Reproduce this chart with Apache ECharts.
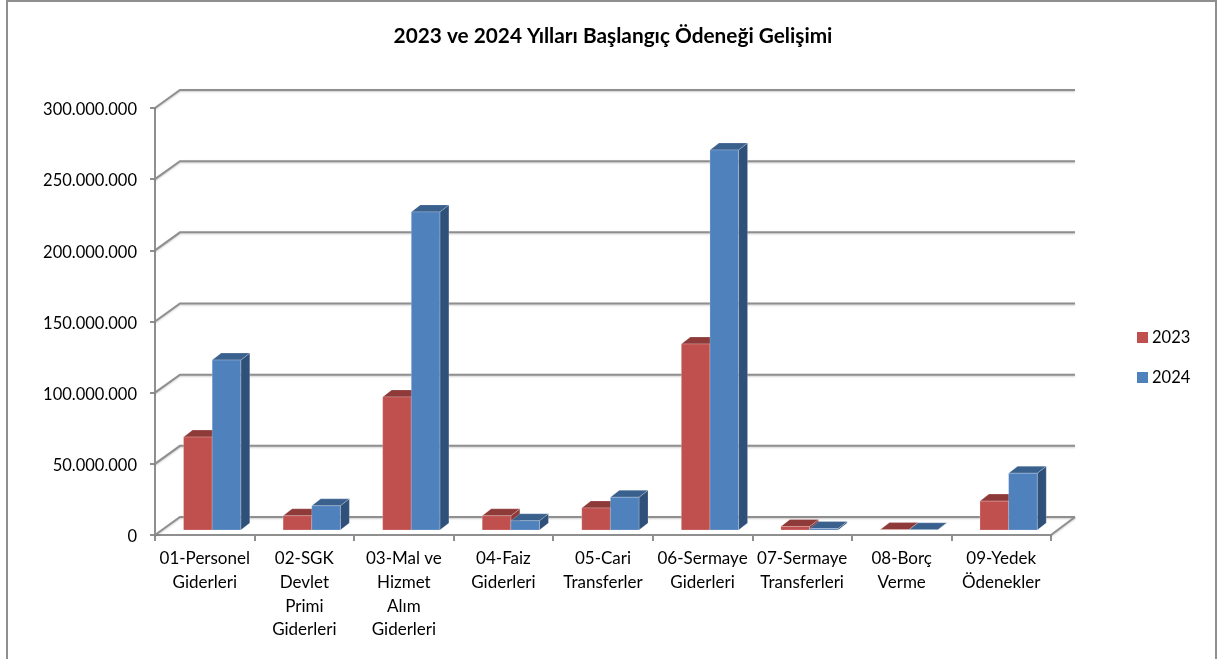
<!DOCTYPE html>
<html><head><meta charset="utf-8">
<style>html,body{margin:0;padding:0;background:#fff}#c{width:1221px;height:659px}</style>
<script src="https://cdn.jsdelivr.net/npm/echarts@6/dist/echarts.min.js"></script>
</head><body><div id="c"></div>
<script>
const categories = ['01-Personel\nGiderleri','02-SGK\nDevlet\nPrimi\nGiderleri','03-Mal ve\nHizmet\nAlım\nGiderleri','04-Faiz\nGiderleri','05-Cari\nTransferler','06-Sermaye\nGiderleri','07-Sermaye\nTransferleri','08-Borç\nVerme','09-Yedek\nÖdenekler'];
const values2023 = [65300000,10000000,93500000,10000000,15500000,130700000,2500000,300000,20300000];
const values2024 = [119400000,17000000,223500000,6500000,23000000,267000000,1000000,150000,39900000];
const yTicks = [0,50000000,100000000,150000000,200000000,250000000,300000000];
const FONT='Lato';
const DEPTH_X=25, DEPTH_Y=18, BAR_DX=9, BAR_DY=7, BAR_FX=7.4, BAR_FY=5;
const chart=echarts.init(document.getElementById('c'),null,{renderer:'canvas'});
function bars(name,color,top,side,sign){
  return {name,type:'custom',coordinateSystem:'cartesian2d',z:3,itemStyle:{color},
    data:(name==='2023'?values2023:values2024).map((v,i)=>[i,v]),
    encode:{x:0,y:1},clip:false,
    renderItem(p,api){
      const base=api.coord([api.value(0),0]),t=api.coord([api.value(0),api.value(1)]);
      const w=api.size([1,0])[0]*0.2875;
      const x0=base[0]+BAR_FX+(sign<0?-w:0),x1=x0+w,yb=base[1]-BAR_FY,yt=t[1]-BAR_FY;
      const edge={stroke:'rgba(255,255,255,0.35)',lineWidth:0.6};
      return {type:'group',children:[
        {type:'polygon',shape:{points:[[x1,yb],[x1+BAR_DX,yb-BAR_DY],[x1+BAR_DX,yt-BAR_DY],[x1,yt]]},style:{fill:side,...edge}},
        {type:'polygon',shape:{points:[[x0,yt],[x1,yt],[x1+BAR_DX,yt-BAR_DY],[x0+BAR_DX,yt-BAR_DY]]},style:{fill:top,...edge}},
        {type:'rect',shape:{x:x0,y:yt,width:w,height:yb-yt},style:{fill:color,...edge}}
      ]};
    }};
}
chart.setOption({
  animation:false,backgroundColor:'#fff',
  title:{text:'2023 ve 2024 Yılları Başlangıç Ödeneği Gelişimi',left:608,top:21,textAlign:'center',
    textStyle:{fontFamily:FONT,fontWeight:'bold',fontSize:20.8,color:'#000'}},
  legend:{data:['2023','2024'],orient:'vertical',left:1132,top:324,itemWidth:11,itemHeight:11,itemGap:23,icon:'rect',
    textStyle:{fontFamily:FONT,fontSize:16.5,color:'#000',padding:[0,0,0,-1]}},
  grid:{left:155,top:108,width:896,height:427,containLabel:false},
  xAxis:{type:'category',data:categories,
    axisLine:{lineStyle:{color:'#8f8f8f',width:2}},
    axisTick:{show:true,length:6,lineStyle:{color:'#8f8f8f',width:2}},
    axisLabel:{interval:0,margin:12,hideOverlap:false,fontFamily:FONT,fontSize:17,lineHeight:23.7,color:'#000'},splitLine:{show:false}},
  yAxis:{type:'value',min:0,max:300000000,interval:50000000,
    axisLine:{show:true,lineStyle:{color:'#8f8f8f',width:2}},
    axisTick:{show:true,length:5,lineStyle:{color:'#8f8f8f',width:2}},
    axisLabel:{margin:18,color:'#000',
      rich:{n:{fontFamily:FONT,fontSize:16.5,color:'#000',padding:[4,0,0,0]}},
      formatter:v=>'{n|'+String(v).replace(/\B(?=(\d{3})+$)/g,'.')+'}'},splitLine:{show:false}},
  graphic:[{type:'rect',silent:true,z:-1,shape:{x:7,y:1,width:1209,height:680},style:{fill:'none',stroke:'#8f8f8f',lineWidth:2}}],
  series:[
    {type:'custom',name:'wall',coordinateSystem:'cartesian2d',z:1,silent:true,clip:false,
     data:yTicks.map(v=>[0,v]),encode:{x:0,y:1},
     renderItem(p,api){
       const y=api.coord([0,api.value(1)])[1],cs=p.coordSys,x=cs.x;
       const line={stroke:'#8f8f8f',lineWidth:2,fill:'none',shadowColor:'rgba(0,0,0,0.2)',shadowBlur:2,shadowOffsetY:1};
       const kids=[{type:'polyline',shape:{points:[[x,y],[x+DEPTH_X,y-DEPTH_Y],[x+cs.width+DEPTH_X-1,y-DEPTH_Y]]},style:line}];
       if(api.value(1)===0)kids.push({type:'polyline',shape:{points:[[x+cs.width,y],[x+cs.width+DEPTH_X-1,y-DEPTH_Y]]},style:line});
       return {type:'group',children:kids};
     }},
    bars('2023','#C0504D','#8E3A38','#8E3A38',-1),
    bars('2024','#4F81BD','#3A608E','#2F5079',1)
  ]
});
</script></body></html>
